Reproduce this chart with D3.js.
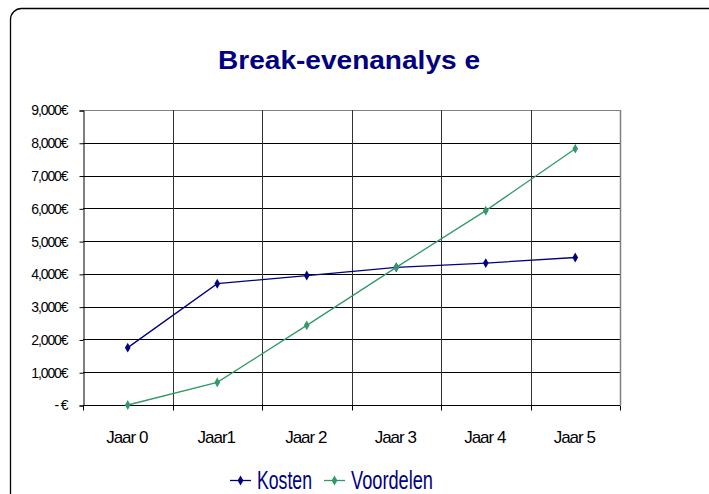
<!DOCTYPE html>
<html>
<head>
<meta charset="utf-8">
<script src="https://cdn.jsdelivr.net/npm/d3@7"></script>
<style>
  body { margin: 0; background: #fff; }
  svg text { font-family: "Liberation Sans", Arial, sans-serif; }
</style>
</head>
<body>
<div id="chart"></div>
<script>
// data
var years = ['Jaar 0', 'Jaar1', 'Jaar 2', 'Jaar 3', 'Jaar 4', 'Jaar 5'];
var kosten = [1750, 3700, 3950, 4200, 4330, 4500];
var voordelen = [0, 690, 2430, 4200, 5930, 7820];
var yTicks = [0, 1000, 2000, 3000, 4000, 5000, 6000, 7000, 8000, 9000];

var width = 709, height = 494;
var plot = { left: 83, top: 110, right: 620, bottom: 405 };

var svg = d3.select('#chart')
    .append('svg')
    .attr('width', width)
    .attr('height', height);

// outer frame, rounded on the left and running off the page
svg.append('rect')
    .attr('x', 10.5).attr('y', 8.5)
    .attr('width', 740).attr('height', 500)
    .attr('rx', 11)
    .attr('fill', 'none')
    .attr('stroke', '#000')
    .attr('stroke-width', 1.3);

svg.append('text')
    .attr('x', 349).attr('y', 69)
    .attr('text-anchor', 'middle')
    .attr('font-size', 26)
    .attr('font-weight', 'bold')
    .attr('fill', '#000080')
    .attr('textLength', 262)
    .attr('lengthAdjust', 'spacingAndGlyphs')
    .text('Break-evenanalys e');

var x = d3.scaleBand().domain(years).range([plot.left, plot.right]);
var y = d3.scaleLinear().domain([0, 9000]).range([plot.bottom, plot.top]);

var fmt = function(v){
    return v === 0 ? '- €' : d3.format(',')(v) + '€';
};

// horizontal gridlines
svg.append('g')
    .selectAll('line')
    .data(yTicks.slice(1))
    .enter().append('line')
    .attr('x1', plot.left).attr('x2', plot.right)
    .attr('y1', function(d){ return Math.round(y(d)) + 0.5; })
    .attr('y2', function(d){ return Math.round(y(d)) + 0.5; })
    .attr('stroke', function(d){ return d === 9000 ? '#808080' : '#000'; })
    .attr('stroke-width', 1);

// vertical gridlines at category boundaries
var bounds = years.map(function(d){ return x(d) + x.bandwidth(); });
svg.append('g')
    .selectAll('line')
    .data(bounds)
    .enter().append('line')
    .attr('x1', function(d){ return Math.round(d) + 0.5; })
    .attr('x2', function(d){ return Math.round(d) + 0.5; })
    .attr('y1', plot.top).attr('y2', plot.bottom)
    .attr('stroke', function(d, i){ return i === bounds.length - 1 ? '#808080' : '#333'; })
    .attr('stroke-width', function(d, i){ return i === bounds.length - 1 ? 1.5 : 1; });

// y axis
var yAxis = svg.append('g')
    .attr('transform', 'translate(' + (plot.left + 0.5) + ',0.5)')
    .call(d3.axisLeft(y).tickValues(yTicks).tickFormat(fmt).tickSize(4).tickPadding(12));
yAxis.select('.domain').attr('stroke', '#000');
yAxis.selectAll('.tick line').attr('stroke', '#000');
yAxis.selectAll('text')
    .attr('font-size', 14)
    .attr('letter-spacing', '-1.1px')
    .attr('fill', '#000')
    .style('white-space', 'pre');

// x axis with ticks at category boundaries
var xAxis = svg.append('g')
    .attr('transform', 'translate(0,' + (plot.bottom + 0.5) + ')');
xAxis.append('line')
    .attr('x1', plot.left).attr('x2', plot.right)
    .attr('stroke', '#000');
xAxis.selectAll('line.tk')
    .data([plot.left].concat(bounds))
    .enter().append('line')
    .attr('class', 'tk')
    .attr('x1', function(d){ return Math.round(d) + 0.5; })
    .attr('x2', function(d){ return Math.round(d) + 0.5; })
    .attr('y1', 0).attr('y2', 5)
    .attr('stroke', '#000');
xAxis.selectAll('text')
    .data(years)
    .enter().append('text')
    .attr('x', function(d){ return x(d) + x.bandwidth() / 2 - 1; })
    .attr('y', 37)
    .attr('text-anchor', 'middle')
    .attr('font-size', 17)
    .attr('letter-spacing', '-1px')
    .attr('fill', '#000')
    .text(function(d){ return d; });

var series = [
    { name: 'Kosten', values: kosten, color: '#000080', textWidth: 55 },
    { name: 'Voordelen', values: voordelen, color: '#339966', textWidth: 82 }
];

var line = d3.line()
    .x(function(d, i){ return x(years[i]) + x.bandwidth() / 2; })
    .y(function(d){ return y(d); });

var diamond = d3.symbol().type(d3.symbolDiamond).size(28);

series.forEach(function(s){
    svg.append('path')
        .datum(s.values)
        .attr('d', line)
        .attr('fill', 'none')
        .attr('stroke', s.color)
        .attr('stroke-width', 1.3);
    svg.append('g')
        .selectAll('path')
        .data(s.values)
        .enter().append('path')
        .attr('d', diamond)
        .attr('transform', function(d, i){
            return 'translate(' + (x(years[i]) + x.bandwidth() / 2) + ',' + y(d) + ')';
        })
        .attr('fill', s.color);
});

// legend
var legend = svg.append('g').attr('transform', 'translate(230,480)');
var lx = 0;
series.forEach(function(s){
    var g = legend.append('g').attr('transform', 'translate(' + lx + ',0)');
    g.append('line')
        .attr('x1', 0).attr('x2', 21).attr('y1', 0.5).attr('y2', 0.5)
        .attr('stroke', s.color).attr('stroke-width', 1.3);
    g.append('path')
        .attr('d', diamond)
        .attr('transform', 'translate(10.5,0.5)')
        .attr('fill', s.color);
    g.append('text')
        .attr('x', 27).attr('y', 9)
        .attr('font-size', 25)
        .attr('fill', '#000080')
        .attr('textLength', s.textWidth)
        .attr('lengthAdjust', 'spacingAndGlyphs')
        .text(s.name);
    lx += 94;
});
</script>
</body>
</html>
